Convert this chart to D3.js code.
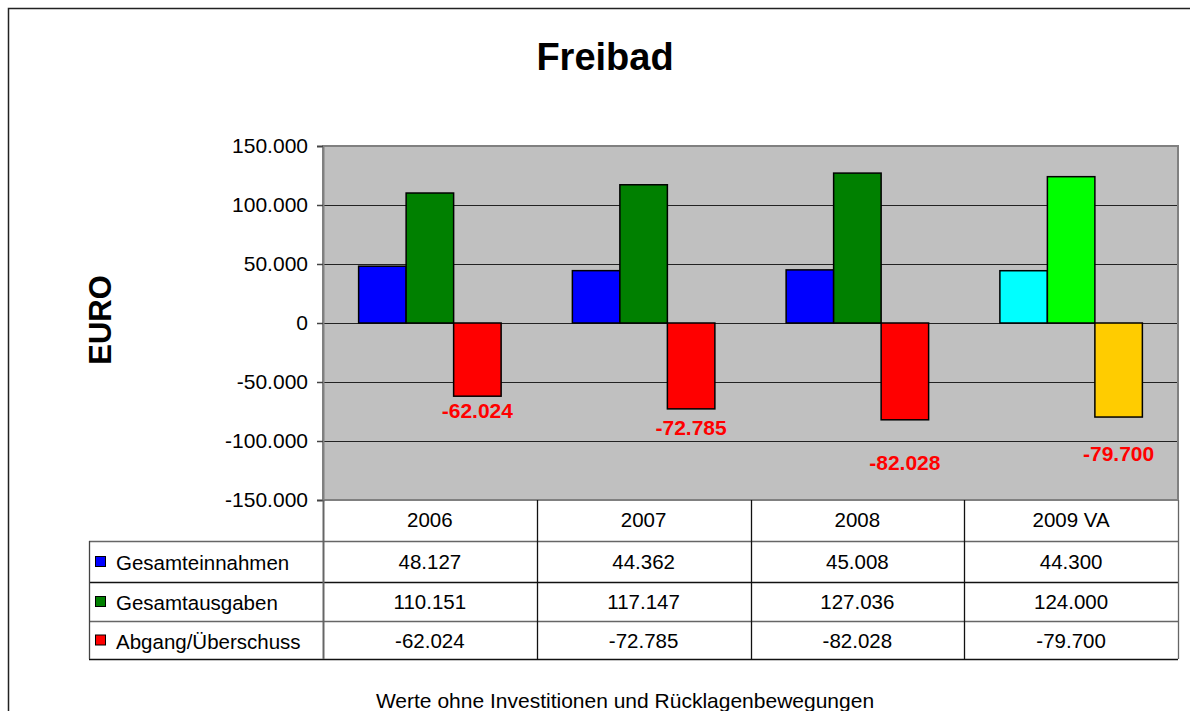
<!DOCTYPE html>
<html>
<head>
<meta charset="utf-8">
<script src="https://cdn.jsdelivr.net/npm/d3@7"></script>
<style>
  body { margin: 0; background: #fff; }
  svg { font-family: "Liberation Sans", Arial, sans-serif; display: block; }
</style>
</head>
<body>
<svg id="chart" width="1190" height="711"></svg>
<script>
// chart data
const years = ["2006", "2007", "2008", "2009 VA"];
const seriesNames = ["Gesamteinnahmen", "Gesamtausgaben", "Abgang/Überschuss"];
const einnahmen = [48127, 44362, 45008, 44300];
const ausgaben = [110151, 117147, 127036, 124000];
const abgang = [-62024, -72785, -82028, -79700];
const yTicks = [-150000, -100000, -50000, 0, 50000, 100000, 150000];

// styling (kept apart from the data)
const colors = ["#0000FF", "#008000", "#FF0000"];
const colorsPlan = ["#00FFFF", "#00FF00", "#FFCC00"];   // 2009 VA is drawn lighter
const labelDy = [22, 26, 50, 44];                       // hand placed labels in the original

const values = [einnahmen, ausgaben, abgang];

const de = d3.formatLocale({decimal: ",", thousands: ".", grouping: [3], currency: ["", " €"], minus: "-"});
const fmt = de.format(",d");

const svg = d3.select("#chart");
const plotL = 323, plotR = 1178, plotT = 146, plotB = 500;
const tableLeft = 89;
const rowLines = [500, 541, 582, 621, 659];
const tableFont = 20.5;

// outer frame, cut off at right and bottom like the screenshot
svg.append("rect")
  .attr("x", 8.5).attr("y", 8.5).attr("width", 1200).attr("height", 720)
  .attr("fill", "#fff").attr("stroke", "#222").attr("stroke-width", 1.5);

const x0 = d3.scaleBand().domain(years).range([plotL, plotR]);
const x1 = d3.scaleBand().domain(seriesNames).range([0, x0.bandwidth()]).paddingOuter(0.75);
const y = d3.scaleLinear().domain([-150000, 150000]).range([plotB, plotT]);

// plot area
svg.append("rect")
  .attr("x", plotL).attr("y", plotT).attr("width", plotR - plotL).attr("height", plotB - plotT)
  .attr("fill", "#C0C0C0");

// gridlines
svg.append("g").selectAll("line").data(yTicks.filter(d => d > -150000 && d < 150000))
  .join("line")
  .attr("x1", plotL).attr("x2", plotR)
  .attr("y1", d => Math.round(y(d)) + 0.5).attr("y2", d => Math.round(y(d)) + 0.5)
  .attr("stroke", "#222").attr("stroke-width", 1.2);

svg.append("rect")
  .attr("x", plotL).attr("y", plotT).attr("width", plotR - plotL).attr("height", plotB - plotT)
  .attr("fill", "none").attr("stroke", "#808080").attr("stroke-width", 2);

// bars
const groups = svg.append("g").selectAll("g").data(years).join("g")
  .attr("transform", d => `translate(${x0(d)},0)`);

groups.selectAll("rect")
  .data((yr, i) => seriesNames.map((s, j) => ({s, j, i, v: values[j][i]})))
  .join("rect")
  .attr("x", d => x1(d.s))
  .attr("width", x1.bandwidth())
  .attr("y", d => y(Math.max(0, d.v)))
  .attr("height", d => Math.abs(y(d.v) - y(0)))
  .attr("fill", d => d.i === 3 ? colorsPlan[d.j] : colors[d.j])
  .attr("stroke", "#000").attr("stroke-width", 1.5);

// data labels for Abgang
svg.append("g").selectAll("text").data(abgang).join("text")
  .attr("x", (d, i) => x0(years[i]) + x1(seriesNames[2]) + x1.bandwidth() / 2)
  .attr("y", (d, i) => y(d) + labelDy[i])
  .attr("text-anchor", "middle")
  .attr("font-size", 21).attr("font-weight", "bold").attr("fill", "#FF0000")
  .text(d => fmt(d));

// y axis
const yAxis = d3.axisLeft(y).tickValues(yTicks).tickFormat(fmt).tickSize(6).tickPadding(9);
const ag = svg.append("g").attr("transform", `translate(${plotL},0)`).call(yAxis);
ag.select(".domain").attr("stroke", "#808080").attr("stroke-width", 2);
ag.selectAll(".tick line").attr("stroke", "#444").attr("stroke-width", 1.5);
ag.selectAll(".tick text").attr("font-size", 21).attr("fill", "#000")
  .attr("font-family", "Liberation Sans, Arial, sans-serif");

// data table
const tg = svg.append("g");
// horizontal lines
tg.selectAll("line.h").data(rowLines.slice(1)).join("line")
  .attr("class", "h")
  .attr("x1", tableLeft).attr("x2", plotR)
  .attr("y1", d => d + 0.5).attr("y2", d => d + 0.5)
  .attr("stroke", (d, i) => i % 2 === 0 ? "#666" : "#111").attr("stroke-width", 1.3);
// vertical lines
const vLines = years.map(d => x0(d)).concat([plotR]);
tg.selectAll("line.v").data(vLines).join("line")
  .attr("class", "v")
  .attr("x1", d => Math.round(d) + 0.5).attr("x2", d => Math.round(d) + 0.5)
  .attr("y1", plotB).attr("y2", rowLines[4])
  .attr("stroke", (d, i) => i === 0 || i === 4 ? "#666" : "#111")
  .attr("stroke-width", (d, i) => i === 0 ? 2 : 1.3);
tg.append("line")
  .attr("x1", tableLeft + 0.5).attr("x2", tableLeft + 0.5)
  .attr("y1", rowLines[1]).attr("y2", rowLines[4])
  .attr("stroke", "#444").attr("stroke-width", 1.3);

// header
tg.selectAll("text.hd").data(years).join("text")
  .attr("class", "hd")
  .attr("x", d => x0(d) + x0.bandwidth() / 2)
  .attr("y", (rowLines[0] + rowLines[1]) / 2 + 6.5)
  .attr("text-anchor", "middle").attr("font-size", tableFont)
  .text(d => d);

// rows
seriesNames.forEach((s, j) => {
  const yMid = (rowLines[j + 1] + rowLines[j + 2]) / 2;
  tg.append("rect")
    .attr("x", 95.5).attr("y", yMid - 5).attr("width", 10).attr("height", 10)
    .attr("fill", colors[j]).attr("stroke", "#000").attr("stroke-width", 1);
  tg.append("text")
    .attr("x", 116).attr("y", yMid + 8.5).attr("font-size", tableFont)
    .text(s);
  tg.append("g").selectAll("text").data(values[j]).join("text")
    .attr("x", (d, i) => x0(years[i]) + x0.bandwidth() / 2)
    .attr("y", yMid + 7.5)
    .attr("text-anchor", "middle").attr("font-size", tableFont)
    .text(d => fmt(d));
});

// titles
svg.append("text")
  .attr("x", 605).attr("y", 70).attr("text-anchor", "middle")
  .attr("font-size", 38).attr("font-weight", "bold")
  .text("Freibad");

svg.append("text")
  .attr("transform", "translate(111,320) rotate(-90)")
  .attr("text-anchor", "middle")
  .attr("font-size", 31).attr("font-weight", "bold")
  .text("EURO");

svg.append("text")
  .attr("x", 625).attr("y", 708).attr("text-anchor", "middle")
  .attr("font-size", 21)
  .text("Werte ohne Investitionen und Rücklagenbewegungen");
</script>
</body>
</html>
